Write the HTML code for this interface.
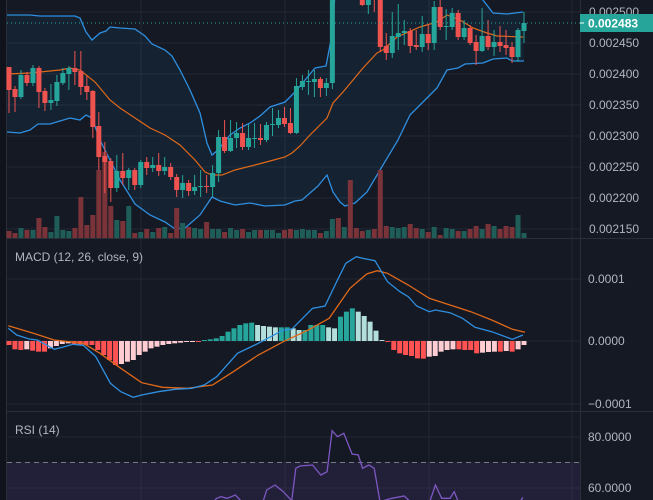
<!DOCTYPE html>
<html><head><meta charset="utf-8"><style>
html,body{margin:0;padding:0;background:#151924;overflow:hidden}
svg{display:block;font-family:"Liberation Sans",sans-serif}
</style></head><body>
<svg id="s" width="653" height="500" xmlns="http://www.w3.org/2000/svg"></svg>
<script>
const S=document.getElementById('s');let h='';
const G='#26a69a',R='#ef5350';
h+='<rect width="653" height="500" fill="#151924"/>';
h+='<rect x="0" y="0" width="6" height="500" fill="#10131b"/><line x1="6.5" y1="0" x2="6.5" y2="500" stroke="#2a2e39"/>';
[12,43,74,105,136,167,198,229,279,341,404,437,488].forEach(y=>h+=`<line x1="7" y1="${y}" x2="580" y2="${y}" stroke="#242833"/>`);
[141,285,429,572].forEach(x=>h+=`<line x1="${x}" y1="0" x2="${x}" y2="500" stroke="#242833"/>`);
h+='<line x1="580.5" y1="0" x2="580.5" y2="500" stroke="#2a2e39"/>';
h+='<line x1="7" y1="238.5" x2="653" y2="238.5" stroke="#2a2e39"/><line x1="7" y1="411.5" x2="653" y2="411.5" stroke="#2a2e39"/>';
const up=[[7,15],[30,15],[40,16],[75,16],[80,18],[86,32],[92,40],[100,33],[106,31],[110,27],[120,28],[135,29],[145,36],[152,44],[165,50],[172,56],[180,70],[190,90],[200,113],[207,143],[212,155],[218,150],[230,135],[240,128],[250,123],[260,116],[270,107],[285,102],[295,92],[305,80],[315,68],[326,66],[331,40],[335,-5],[480,-5],[483,0],[493,13],[507,14],[523,12]];
const lo=[[7,132],[20,133],[30,130],[38,124],[50,124],[60,121],[70,118],[80,120],[86,115],[92,118],[100,140],[110,160],[120,180],[135,204],[150,215],[165,222],[175,229],[185,228],[200,215],[212,197],[220,201],[235,205],[250,203],[265,206],[285,205],[295,201],[302,200],[310,193],[318,186],[327,175],[333,192],[340,202],[345,206],[355,203],[367,192],[380,170],[398,140],[410,115],[427,98],[437,88],[447,70],[458,68],[465,64],[483,63],[493,59],[507,58],[512,61],[524,61]];
const ma=[[7,74],[30,73],[60,70],[70,68],[80,70],[95,82],[110,100],[120,108],[135,118],[150,128],[165,135],[180,145],[195,160],[205,172],[212,175],[222,175],[235,170],[255,165],[270,161],[285,157],[292,153],[300,146],[310,135],[320,125],[327,118],[333,103],[343,92],[353,80],[363,68],[377,53],[383,50],[397,37],[420,27],[437,22],[447,15],[460,20],[473,28],[487,33],[497,36],[523,37]];
const P=a=>a.map(p=>p.join(',')).join(' ');
const X=(i,n)=>9+i*(524-9)/(n-1);
h+=`<polygon points="${P(up)} ${P(lo.slice().reverse())}" fill="rgba(33,150,243,0.07)"/>`;
h+=`<polyline points="${P(up)}" fill="none" stroke="#2f8fe0" stroke-width="1.3"/>`;
h+=`<polyline points="${P(lo)}" fill="none" stroke="#2f8fe0" stroke-width="1.3"/>`;
const vol=[[231,'r'],[233,'r'],[228,'g'],[230,'r'],[230,'g'],[218,'r'],[227,'r'],[232,'g'],[216,'g'],[230,'g'],[231,'g'],[228,'r'],[197,'r'],[225,'r'],[215,'r'],[170,'r'],[152,'r'],[206,'r'],[220,'g'],[221,'r'],[206,'g'],[233,'r'],[232,'g'],[229,'r'],[232,'g'],[228,'r'],[227,'g'],[233,'r'],[208,'r'],[223,'g'],[227,'r'],[228,'g'],[229,'g'],[222,'r'],[229,'g'],[229,'g'],[232,'r'],[228,'g'],[230,'g'],[229,'r'],[232,'g'],[230,'g'],[230,'r'],[230,'g'],[230,'g'],[233,'g'],[230,'r'],[229,'r'],[230,'g'],[229,'g'],[230,'g'],[230,'g'],[233,'r'],[231,'g'],[219,'g'],[218,'r'],[227,'g'],[180,'r'],[228,'r'],[231,'r'],[230,'g'],[229,'r'],[170,'r'],[226,'r'],[227,'g'],[228,'g'],[227,'g'],[224,'r'],[228,'r'],[229,'g'],[232,'r'],[227,'g'],[235,'r'],[228,'g'],[229,'g'],[231,'r'],[231,'g'],[229,'r'],[226,'r'],[229,'g'],[224,'r'],[226,'g'],[229,'r'],[226,'r'],[227,'r'],[215,'g'],[233,'g']];
vol.forEach((v,i)=>{const x=X(i,vol.length);h+=`<rect x="${x-2.5}" y="${v[0]}" width="5" height="${238-v[0]}" fill="${v[1]=='g'?'#1f5d59':'#7a3338'}"/>`});
h+=`<polyline points="${P(ma)}" fill="none" stroke="#e0691a" stroke-width="1.2"/>`;
const c=[[67,90,'r',67,113],[89,97,'r',86,112],[75,97,'g',70,99],[75,83,'r',72,86],[68,83,'g',65,86],[68,92,'r',66,108],[91,103,'r',88,111],[100,103,'g',84,110],[82,101,'g',75,106],[73,83,'g',68,85],[68,74,'g',66,90],[68,72,'r',51,85],[71,87,'r',51,95],[86,92,'r',76,100],[91,127,'r',90,138],[126,157,'r',112,170],[156,162,'r',142,193],[161,188,'r',158,202],[171,188,'g',155,192],[171,178,'r',153,185],[170,178,'g',168,190],[170,185,'r',168,190],[162,185,'g',160,188],[162,168,'r',157,175],[165,168,'g',157,172],[165,171,'r',153,176],[167,171,'g',157,175],[167,177,'r',163,180],[177,190,'r',174,197],[183,190,'g',175,198],[183,191,'r',180,196],[187,191,'g',175,195],[186,187,'g',170,197],[186,187,'r',175,193],[173,187,'g',165,197],[137,173,'g',130,182],[137,151,'r',120,153],[138,151,'g',120,152],[133,138,'g',122,148],[133,147,'r',123,150],[138,147,'g',124,150],[138,139,'g',123,148],[138,140,'r',124,145],[125,140,'g',122,142],[124,125,'g',108,136],[118,125,'g',110,128],[118,124,'r',107,127],[123,133,'r',108,134],[86,133,'g',78,134],[81,87,'g',75,90],[81,82,'g',70,95],[79,82,'g',70,97],[79,88,'r',77,97],[83,88,'g',78,96],[0,83,'g',-5,89],[-30,-20,'g',-35,-15],[-30,-20,'r',-35,-15],[-30,-20,'g',-35,-15],[-30,-20,'r',-35,-15],[-5,5,'r',-6,6],[-4,5,'g',-6,14],[-9,-2,'r',-10,12],[0,47,'r',-5,52],[46,53,'r',33,60],[36,53,'g',12,58],[33,37,'g',4,50],[31,33,'g',20,45],[31,46,'r',28,53],[45,47,'r',30,50],[34,47,'g',16,52],[34,43,'r',24,50],[7,43,'g',1,50],[7,27,'r',0,30],[26,27,'g',9,40],[13,27,'g',8,30],[13,37,'r',10,40],[28,37,'g',20,40],[28,43,'r',25,45],[42,51,'r',35,65],[36,51,'g',8,52],[36,47,'r',20,50],[42,47,'g',30,56],[42,46,'r',26,52],[45,48,'r',30,55],[47,57,'r',42,63],[30,57,'g',28,62],[23,31,'g',12,43]];
c.forEach((k,i)=>{const x=X(i,c.length),col=k[2]=='g'?G:R;h+=`<line x1="${x}" y1="${k[3]}" x2="${x}" y2="${k[4]}" stroke="${col}" stroke-width="1"/><rect x="${x-2.5}" y="${k[0]}" width="5" height="${Math.max(1,k[1]-k[0])}" fill="${col}"/>`});
h+='<line x1="7" y1="23" x2="580" y2="23" stroke="#26a69a" stroke-dasharray="1,3"/>';
[['0.002500',12],['0.002450',43],['0.002400',74],['0.002350',105],['0.002300',136],['0.002250',167],['0.002200',198],['0.002150',229]].forEach(l=>h+=`<text x="589" y="${l[1]+4}" font-size="12" fill="#b2b5be">${l[0]}</text>`);
h+='<rect x="580" y="14" width="73" height="18" fill="#26a69a"/><line x1="580" y1="23" x2="584" y2="23" stroke="#fff"/><text x="588" y="27.5" font-size="12" font-weight="bold" fill="#fff">0.002483</text>';
h+='<text x="15" y="261" font-size="12" fill="#b2b5be">MACD (12, 26, close, 9)</text>';
[['0.0001',279],['0.0000',341],['−0.0001',404]].forEach(l=>h+=`<text x="588" y="${l[1]+4}" font-size="12" fill="#b2b5be">${l[0]}</text>`);
const hv=[315,328,330,328,332,335,335,325,318,312,310,312,314,315,315,330,345,360,375,372,365,360,345,335,325,320,315,312,310,308,306,305,305,300,298,295,288,275,265,255,250,248,255,258,260,262,262,262,265,270,270,255,255,255,262,265,230,215,205,215,228,245,272,300,305,330,340,345,348,355,356,350,348,335,330,328,328,330,330,340,338,336,335,335,333,335,328,315];
let prev=0;hv.forEach((v,i)=>{const x=X(i,hv.length);const d=(v-303)/3;let col;
if(d>=0){col=(d>=prev)?'#ff5252':'#ffcdd2'}else{col=(d<=prev)?'#26a69a':'#b2dfdb'}
prev=d;const y0=341,y1=341+d;h+=`<rect x="${x-2.5}" y="${Math.min(y0,y1)}" width="5" height="${Math.max(1,Math.abs(d))}" fill="${col}"/>`});
const tr=a=>a.map(p=>[(p[0]/2.4).toFixed(1),(240+p[1]/3).toFixed(1)]);
const mb=[[20,265],[40,285],[70,297],[90,300],[130,328],[150,322],[175,313],[200,316],[230,350],[265,430],[290,455],[320,472],[340,465],[380,455],[420,448],[460,445],[490,435],[520,410],[570,340],[620,310],[680,270],[700,268],[750,205],[780,198],[810,120],[830,70],[855,50],[870,55],[900,62],[930,125],[960,155],[980,170],[1000,198],[1030,215],[1045,210],[1080,218],[1110,235],[1140,262],[1180,275],[1230,298],[1255,285]];
const ms=[[20,257],[80,280],[130,300],[200,310],[240,340],[290,385],[340,428],[390,442],[450,445],[510,435],[560,395],[620,345],[680,305],[740,270],[790,235],[840,145],[880,102],[905,92],[930,100],[980,135],[1030,175],[1080,195],[1130,215],[1180,240],[1230,268],[1260,277]];
h+=`<polyline points="${P(tr(ms))}" fill="none" stroke="#e0691a" stroke-width="1.3"/>`;
h+=`<polyline points="${P(tr(mb))}" fill="none" stroke="#2f8fe0" stroke-width="1.3"/>`;
h+='<rect x="7" y="462" width="573" height="38" fill="rgba(126,87,194,0.13)"/>';
h+='<line x1="7" y1="462.5" x2="580" y2="462.5" stroke="#787b86" stroke-dasharray="5,4"/>';
h+='<text x="15" y="434" font-size="12" fill="#b2b5be">RSI (14)</text>';
[['80.0000',437],['60.0000',488]].forEach(l=>h+=`<text x="588" y="${l[1]+4}" font-size="12" fill="#b2b5be">${l[0]}</text>`);
const rs=[[500,800],[520,775],[530,770],[545,775],[565,765],[580,785],[600,800],[630,790],[640,750],[660,735],[680,755],[700,782],[710,685],[720,678],[750,675],[770,705],[785,695],[797,572],[810,590],[825,580],[845,642],[860,645],[870,685],[885,675],[898,685],[912,785],[940,775],[970,768],[985,785],[1000,800],[1030,790],[1045,735],[1060,775],[1080,775],[1090,755],[1100,785],[1120,800],[1240,800],[1255,772]];
h+=`<polyline points="${P(tr(rs))}" fill="none" stroke="#7e57c2" stroke-width="1.3"/>`;
S.innerHTML=h;
</script>
</body></html>
